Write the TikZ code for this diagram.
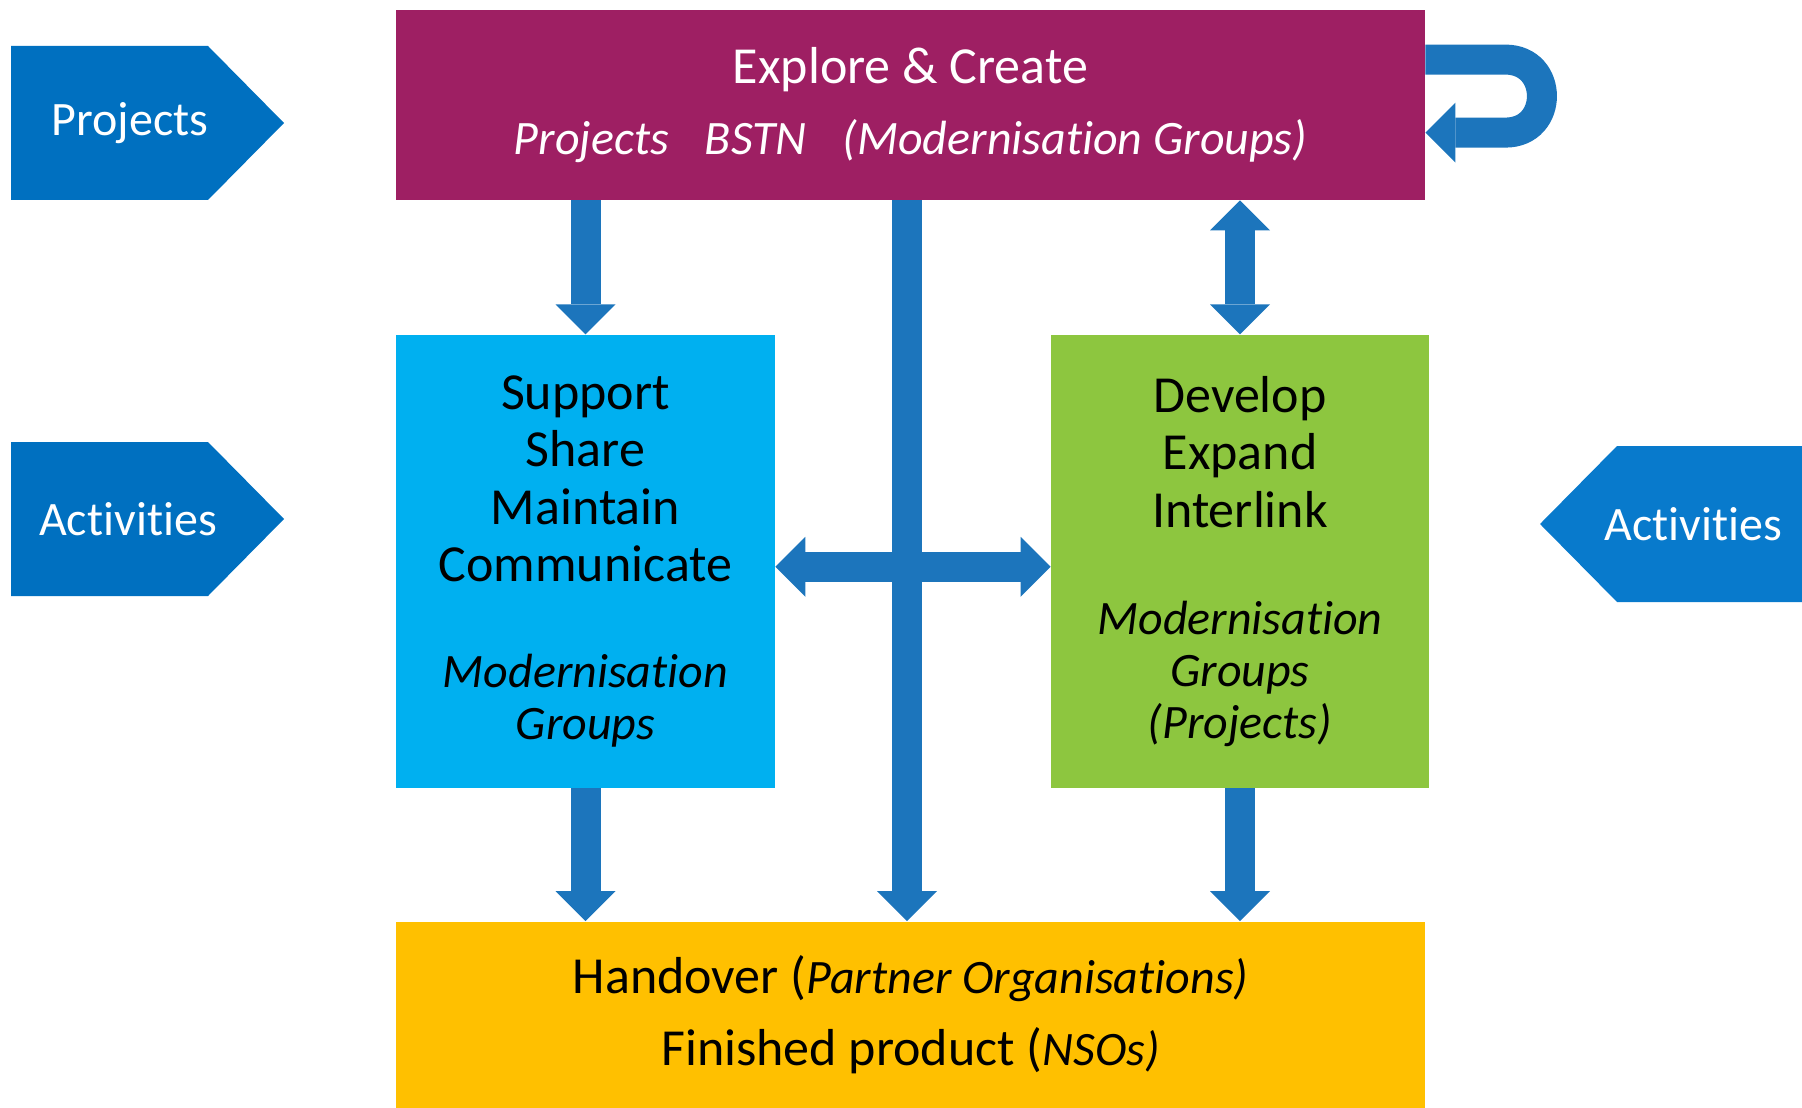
\documentclass[tikz,border=0pt]{standalone}
\usepackage{fontspec}
\setmainfont{Carlito}[Ligatures=NoCommon]
\usetikzlibrary{arrows.meta,positioning,calc}
\usepackage{xcolor}
\definecolor{exploremag}{RGB}{158,31,99}
\definecolor{supportcyan}{RGB}{0,176,240}
\definecolor{developgreen}{RGB}{141,198,63}
\definecolor{handoveramber}{RGB}{255,192,0}
\definecolor{flowblue}{RGB}{28,117,188}
\definecolor{tagblue}{RGB}{0,112,192}
\definecolor{tagblueright}{RGB}{8,122,204}
\newcommand{\subtxt}{\fontsize{24}{26}\selectfont\itshape}

\begin{document}
\begin{tikzpicture}[x=0.5pt, y=-0.5pt,
    box/.style={rectangle, inner sep=0pt, align=center, font=\fontsize{26}{28.75}\selectfont},
    tag/.style={text=white, inner sep=0pt, font=\fontsize{24}{26}\selectfont},
    flow/.style={draw=flowblue, line width=15pt, -{Triangle[width=30pt,length=15pt,line width=0pt]}},
    flowboth/.style={flow, {Triangle[width=30pt,length=15pt,line width=0pt]}-{Triangle[width=30pt,length=15pt,line width=0pt]}}]
    \useasboundingbox (0,0) rectangle (1802,1107);

    % side tags
    \fill[tagblue] (11,46) -- (208,46) -- (284,123) -- (208,200) -- (11,200) -- cycle;
    \node[tag] (projects) at (130,123) {Projects};
    \fill[tagblue] (11,442) -- (208,442) -- (284,519) -- (208,596) -- (11,596) -- cycle;
    \node[tag] (actleft) at (128,519) {Activities};
    \fill[tagblueright] (1802,446) -- (1617,446) -- (1540,524) -- (1617,602) -- (1802,602) -- cycle;
    \node[tag] (actright) at (1693,524) {Activities};

    % boxes
    \node[box, fill=exploremag, text=white, minimum width=514.5pt, minimum height=95pt] (explore) at (910.5,105)
        {Explore \& Create\\[6.75pt]\subtxt Projects\hspace{18pt}BSTN\hspace{18pt}(Modernisation Groups)};
    \node[box, fill=supportcyan, minimum width=189.5pt, minimum height=226.5pt, below right=67pt and 0pt of explore.south west] (support)
        {Support\\Share\\Maintain\\Communicate\\[24.25pt]\subtxt Modernisation\\[-2.75pt]\subtxt Groups};
    \node[box, fill=developgreen, minimum width=189pt, minimum height=226.5pt, below left=67pt and -2pt of explore.south east] (develop)
        {Develop\\Expand\\Interlink\\[24.75pt]\subtxt Modernisation\\[-2.75pt]\subtxt Groups\\[-2.75pt]\subtxt (Projects)};
    \node[box, fill=handoveramber, minimum width=514.5pt, minimum height=93.5pt, below right=66.5pt and 0pt of support.south west] (handover)
        {Handover ({\subtxt Partner Organisations)}\\[7.25pt]Finished product ({\subtxt NSOs)}};

    % arrows
    \coordinate (spine) at (907,0);
    \draw[flow] (explore.south -| support.north) -- (support.north);
    \draw[flowboth] (explore.south -| develop.north) -- (develop.north);
    \draw[flow] (explore.south -| spine) -- (handover.north -| spine);
    \draw[flowboth] ([yshift=-2.75pt]support.east) -- ([yshift=-2.75pt]develop.west);
    \draw[flow] (support.south) -- (handover.north -| support.south);
    \draw[flow] (develop.south) -- (handover.north -| develop.south);
    \draw[flow] ([yshift=-25pt]explore.north east) -- ++(80,0)
        .. controls +(48.7,0) and +(48.7,0) .. ([xshift=40pt,yshift=-61.5pt]explore.north east)
        -- ([yshift=-61.5pt]explore.north east);
\end{tikzpicture}
\end{document}
